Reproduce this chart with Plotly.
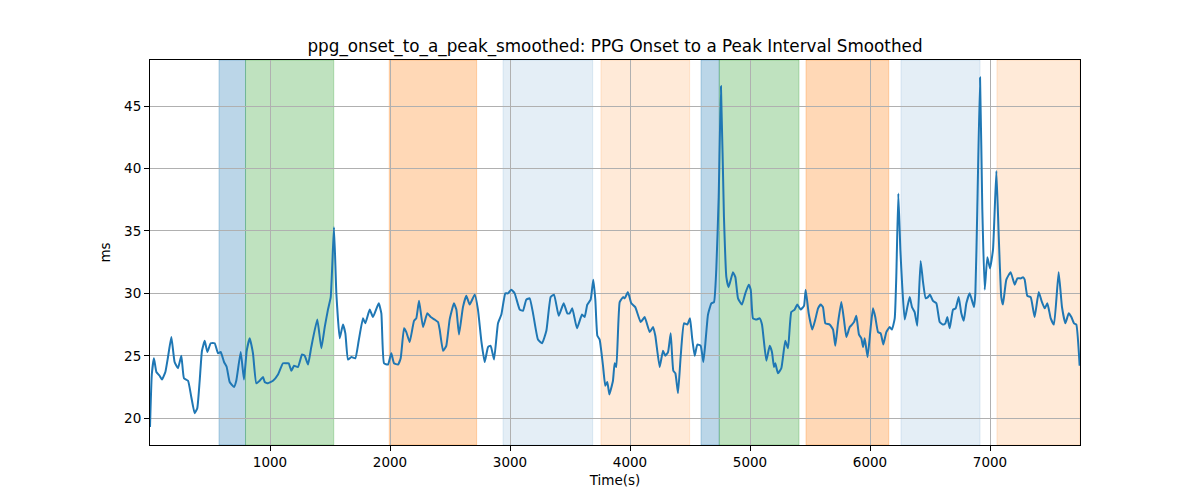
import plotly.graph_objects as go

# ---- data ----
time_s = [0, 15, 33, 53, 80, 100, 128, 150, 178, 205, 233, 261, 283, 317, 344, 372, 394, 414, 433, 456,
          478, 506, 539, 567, 589, 617, 639, 664, 700, 719, 756, 783, 806, 831, 858, 886, 914, 942, 956, 983,
          1025, 1067, 1108, 1136, 1156, 1178, 1200, 1233, 1267, 1289, 1317, 1344, 1394, 1428, 1456, 1483, 1506, 1533, 1553, 1581,
          1608, 1628, 1650, 1678, 1711, 1739, 1775, 1794, 1831, 1858, 1906, 1928, 1950, 1983, 2011, 2033, 2067, 2089, 2117, 2136,
          2164, 2200, 2219, 2242, 2275, 2311, 2339, 2372, 2400, 2414, 2442, 2469, 2497, 2533, 2553, 2575, 2608, 2636, 2664, 2706,
          2733, 2761, 2789, 2817, 2839, 2867, 2900, 2928, 2961, 2983, 3011, 3039, 3081, 3108, 3136, 3164, 3192, 3233, 3267, 3303,
          3339, 3367, 3406, 3447, 3478, 3497, 3519, 3558, 3600, 3622, 3644, 3672, 3694, 3711, 3728, 3747, 3775, 3794, 3811, 3828,
          3858, 3872, 3886, 3914, 3942, 3956, 3983, 4011, 4044, 4089, 4122, 4164, 4192, 4211, 4247, 4275, 4294, 4317, 4339, 4361,
          4378, 4400, 4422, 4450, 4478, 4500, 4517, 4539, 4561, 4589, 4611, 4628, 4650, 4678, 4700, 4719, 4739, 4758, 4783, 4803,
          4822, 4858, 4878, 4900, 4933, 4961, 4989, 5006, 5025, 5053, 5081, 5100, 5136, 5164, 5183, 5200, 5211, 5233, 5261, 5294,
          5317, 5344, 5372, 5394, 5422, 5450, 5464, 5489, 5519, 5544, 5567, 5589, 5608, 5628, 5664, 5692, 5711, 5733, 5761, 5783,
          5803, 5831, 5850, 5867, 5886, 5908, 5928, 5942, 5956, 5980, 6006, 6025, 6044, 6067, 6089, 6111, 6136, 6164, 6183, 6206,
          6219, 6236, 6253, 6269, 6289, 6311, 6331, 6350, 6372, 6394, 6422, 6442, 6464, 6483, 6500, 6525, 6553, 6581, 6608, 6628,
          6644, 6664, 6692, 6714, 6739, 6761, 6781, 6803, 6831, 6867, 6878, 6894, 6917, 6936, 6956, 6978, 7000, 7025, 7053, 7072,
          7094, 7108, 7136, 7172, 7206, 7228, 7256, 7275, 7289, 7311, 7339, 7372, 7406, 7433, 7456, 7478, 7506, 7533, 7572, 7600,
          7628, 7656, 7678, 7700, 7719, 7747]
interval_ms = [19.3, 23.5, 24.8, 23.7, 23.4, 23.1, 23.7, 24.9, 26.5, 24.5, 24.0, 25.0, 23.2, 23.0, 21.7, 20.4, 20.8, 23.0, 25.4, 26.2,
               25.3, 26.0, 26.0, 25.2, 25.3, 24.5, 24.1, 22.9, 22.5, 23.0, 25.3, 23.1, 25.4, 26.4, 25.2, 22.8, 23.0, 23.3, 22.9, 22.8,
               23.0, 23.5, 24.4, 24.4, 24.4, 23.8, 24.2, 24.1, 25.1, 25.0, 24.3, 25.7, 27.9, 25.6, 27.3, 28.7, 29.7, 35.3, 30.0, 26.4,
               27.5, 26.8, 24.7, 24.9, 24.8, 26.2, 28.0, 27.6, 28.7, 28.1, 29.2, 28.4, 24.4, 24.3, 25.2, 24.4, 24.3, 24.8, 27.2, 26.9,
               26.1, 27.8, 28.0, 29.4, 27.3, 28.4, 28.1, 27.9, 27.7, 27.1, 25.4, 25.8, 27.9, 29.2, 28.7, 26.7, 28.9, 29.8, 29.1, 29.9,
               28.7, 26.2, 24.5, 25.7, 25.8, 24.7, 27.6, 28.3, 30.0, 30.0, 30.3, 30.0, 28.7, 28.6, 29.5, 29.6, 28.4, 26.3, 26.0, 27.0,
               29.7, 29.9, 28.2, 29.2, 28.4, 28.4, 28.8, 27.2, 28.3, 28.1, 29.1, 29.5, 31.1, 29.5, 26.6, 26.3, 24.2, 22.6, 22.9, 21.9,
               23.0, 24.4, 24.1, 29.3, 29.7, 29.6, 30.1, 29.2, 28.9, 27.7, 28.1, 26.9, 27.3, 26.6, 24.1, 25.4, 25.0, 25.3, 26.8, 23.8,
               23.6, 22.0, 24.9, 27.6, 27.5, 28.0, 26.5, 25.0, 25.9, 25.8, 24.5, 26.0, 28.3, 29.2, 29.3, 31.9, 37.7, 46.6, 36.1, 31.3,
               30.5, 31.7, 31.3, 29.6, 29.1, 30.0, 30.7, 30.3, 28.0, 27.9, 28.0, 27.5, 24.6, 25.8, 25.3, 24.1, 24.4, 23.6, 24.0, 26.2,
               25.6, 28.5, 28.7, 29.1, 28.7, 29.0, 30.3, 28.4, 27.1, 27.9, 28.8, 29.1, 28.9, 27.6, 27.5, 27.1, 25.8, 27.6, 29.3, 27.9,
               26.5, 27.3, 27.5, 27.7, 28.2, 26.7, 26.4, 25.7, 26.4, 24.9, 27.3, 28.8, 28.1, 26.9, 26.8, 25.9, 26.9, 27.3, 27.1, 28.0,
               31.3, 38.0, 33.5, 30.5, 27.9, 28.9, 29.7, 28.9, 28.5, 27.4, 32.6, 30.9, 29.6, 29.7, 29.9, 29.4, 29.2, 27.7, 27.5, 27.6,
               28.1, 27.2, 28.7, 28.8, 29.7, 28.4, 27.8, 29.2, 30.0, 28.9, 30.0, 36.7, 47.3, 36.7, 30.3, 32.9, 32.0, 33.5, 39.8, 34.8,
               29.7, 29.1, 31.1, 31.7, 30.7, 31.2, 31.2, 31.3, 31.1, 29.8, 29.7, 28.1, 30.1, 29.3, 28.8, 29.2, 28.0, 27.5, 31.7, 28.9,
               27.6, 28.4, 28.1, 27.6, 27.5, 24.2]

span_start = [575, 796, 1994, 2942, 3758, 4592, 4744, 5467, 6258, 7058]
span_end = [796, 1531, 2722, 3689, 4497, 4744, 5408, 6156, 6917, 7750]
span_rgb = ["31,119,180", "44,160,44", "255,127,14", "31,119,180", "255,127,14",
            "31,119,180", "44,160,44", "255,127,14", "31,119,180", "255,127,14"]
span_alpha = [0.3, 0.3, 0.3, 0.12, 0.16, 0.3, 0.3, 0.3, 0.12, 0.16]

x_ticks = [1000, 2000, 3000, 4000, 5000, 6000, 7000]
y_ticks = [20, 25, 30, 35, 40, 45]

fig = go.Figure()
fig.add_trace(go.Scatter(x=time_s, y=interval_ms, mode="lines",
                         line=dict(color="#1f77b4", width=2, shape="spline", smoothing=0.4),
                         showlegend=False, hoverinfo="skip"))

for s, e, c, a in zip(span_start, span_end, span_rgb, span_alpha):
    fig.add_shape(type="rect", xref="x", yref="paper", x0=s, x1=e, y0=0, y1=1,
                  fillcolor=f"rgba({c},{a})", line=dict(color=f"rgba({c},{a})", width=1),
                  layer="below")

font = "DejaVu Sans, Arial, sans-serif"
fig.update_layout(
    width=1200, height=500,
    margin=dict(l=142, r=128, t=52, b=63),
    paper_bgcolor="white", plot_bgcolor="white",
    font=dict(family=font, size=14, color="black"),
    title=dict(text="ppg_onset_to_a_peak_smoothed: PPG Onset to a Peak Interval Smoothed",
               x=607 / 1200, xanchor="center", xref="container",
               y=1 - 38 / 500, yanchor="middle", yref="container",
               font=dict(family=font, size=16.8, color="black")),
    showlegend=False,
)
fig.update_xaxes(range=[0, 7750], tickvals=x_ticks, ticktext=[str(v) for v in x_ticks],
                 showgrid=True, gridcolor="#b0b0b0", gridwidth=1,
                 showline=True, linecolor="black", linewidth=1, mirror=True,
                 ticks="outside", ticklen=5, tickcolor="black", zeroline=False,
                 tickfont=dict(family=font, size=13.5),
                 title=dict(text="Time(s)", standoff=6, font=dict(family=font, size=13.5)))
fig.update_yaxes(range=[17.85, 48.7], tickvals=y_ticks, ticktext=[str(v) for v in y_ticks],
                 showgrid=True, gridcolor="#b0b0b0", gridwidth=1,
                 showline=True, linecolor="black", linewidth=1, mirror=True,
                 ticks="outside", ticklen=5, tickcolor="black", zeroline=False,
                 tickfont=dict(family=font, size=13.5),
                 title=dict(text="ms", standoff=10, font=dict(family=font, size=13.5)))

fig.write_html("out.html")
